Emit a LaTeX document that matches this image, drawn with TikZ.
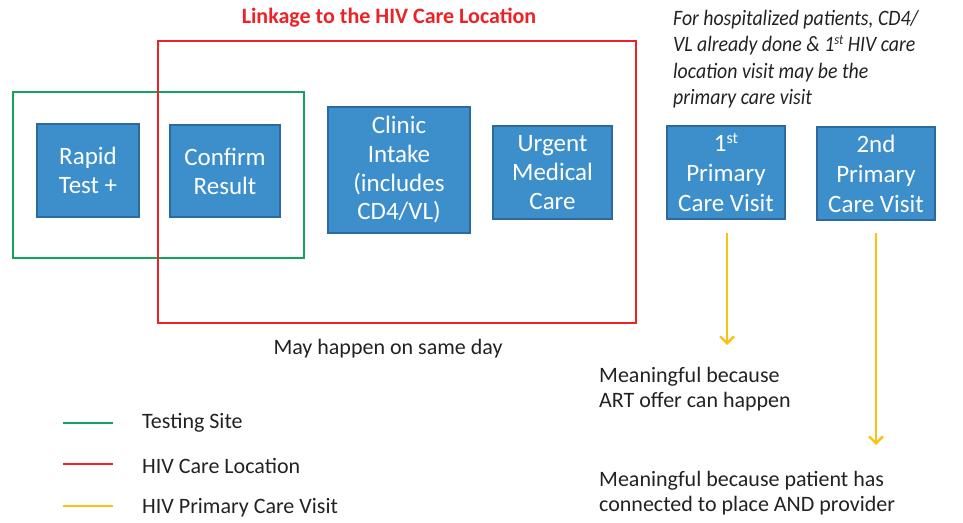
\documentclass[tikz,border=0pt]{standalone}
\usepackage{fontspec}
\setmainfont{Carlito}
\usetikzlibrary{arrows.meta}
\definecolor{boxblue}{HTML}{3C8FCB}
\definecolor{boxedge}{HTML}{2C6A9E}
\definecolor{tgreen}{HTML}{10A55A}
\definecolor{tred}{HTML}{EC2227}
\definecolor{tyellow}{HTML}{FDC010}
\definecolor{txt}{HTML}{222222}
\begin{document}
\begin{tikzpicture}[x=1pt,y=-1pt,
  bluebox/.style={draw=boxedge,line width=1.5pt,fill=boxblue,text=white,align=center,
    inner sep=0pt,font=\fontsize{25}{29}\selectfont},
  frame/.style={line width=2.6pt},
  legline/.style={line width=2.6pt},
  yarrow/.style={draw=tyellow,line width=2.4pt,-{Straight Barb[length=7pt,width=14pt,line width=2.4pt]}},
  body/.style={text=txt,font=\fontsize{22}{25}\selectfont,align=left,inner sep=0pt},
]
\useasboundingbox (0,0) rectangle (963,522);
% frames
\draw[frame,draw=tgreen] (13,92) rectangle (304,258);
\draw[frame,draw=tred] (158,41) rectangle (636,323);
% boxes
\node[bluebox,minimum width=102pt,minimum height=93pt] (rapid) at (88,170.5) {Rapid\\Test +};
\node[bluebox,minimum width=110pt,minimum height=92pt] (confirm) at (225,171) {Confirm\\Result};
\node[bluebox,minimum width=142pt,minimum height=126pt,font=\fontsize{25}{28.7}\selectfont] (clinic) at (399,170) {Clinic\\Intake\\(includes\\CD4/VL)};
\node[bluebox,minimum width=119pt,minimum height=93pt] (urgent) at (552.5,172.5) {Urgent\\Medical\\Care};
\node[bluebox,minimum width=118pt,minimum height=93pt,font=\fontsize{25}{30}\selectfont] (first) at (726,172.5) {1{\fontsize{16}{16}\selectfont\raisebox{0.45em}{st}}\\Primary\\Care Visit};
\node[bluebox,minimum width=118pt,minimum height=93pt,font=\fontsize{25}{30}\selectfont] (second) at (876,173.5) {2nd\\Primary\\Care Visit};
% title
\node[text=tred,font=\bfseries\fontsize{22}{24}\selectfont,inner sep=0pt] (title) at (389,18) {Linkage to the HIV Care Location};
% note
\node[anchor=north west,text=txt,inner sep=0pt] (note) at (673,6.5)
 {\scalebox{0.9}[1]{\itshape\fontsize{22}{26.5}\selectfont\begin{tabular}{@{}l@{}}For hospitalized patients, CD4/\\VL already done \& 1{\fontsize{14}{14}\selectfont\raisebox{0.5em}{st}} HIV care\\location visit may be the\\primary care visit\end{tabular}}};
% same day
\node[body] (same) at (388,349) {May happen on same day};
% arrows
\coordinate (a1) at (727,345);
\coordinate (a2) at (876,445);
\draw[yarrow] (727,233) -- (a1);
\draw[yarrow] (876,233) -- (a2);
\node[body,anchor=west] (m1) at (599,377) {Meaningful because};
\node[body,anchor=west] (m1b) at (599,402) {ART offer can happen};
\node[body,anchor=west] (m2) at (599,481) {Meaningful because patient has};
\node[body,anchor=west] (m2b) at (599,506) {connected to place AND provider};
% legend
\coordinate (l1a) at (63,423); \coordinate (l1b) at (113,423);
\coordinate (l2a) at (63,464); \coordinate (l2b) at (113,464);
\coordinate (l3a) at (63,506); \coordinate (l3b) at (113,506);
\draw[legline,tgreen] (l1a) -- (l1b);
\draw[legline,tred] (l2a) -- (l2b);
\draw[legline,tyellow] (l3a) -- (l3b);
\node[body,anchor=west] (t1) at (142,423) {Testing Site};
\node[body,anchor=west] (t2) at (142,466) {HIV Care Location};
\node[body,anchor=west] (t3) at (142,508) {HIV Primary Care Visit};
\end{tikzpicture}
\end{document}
